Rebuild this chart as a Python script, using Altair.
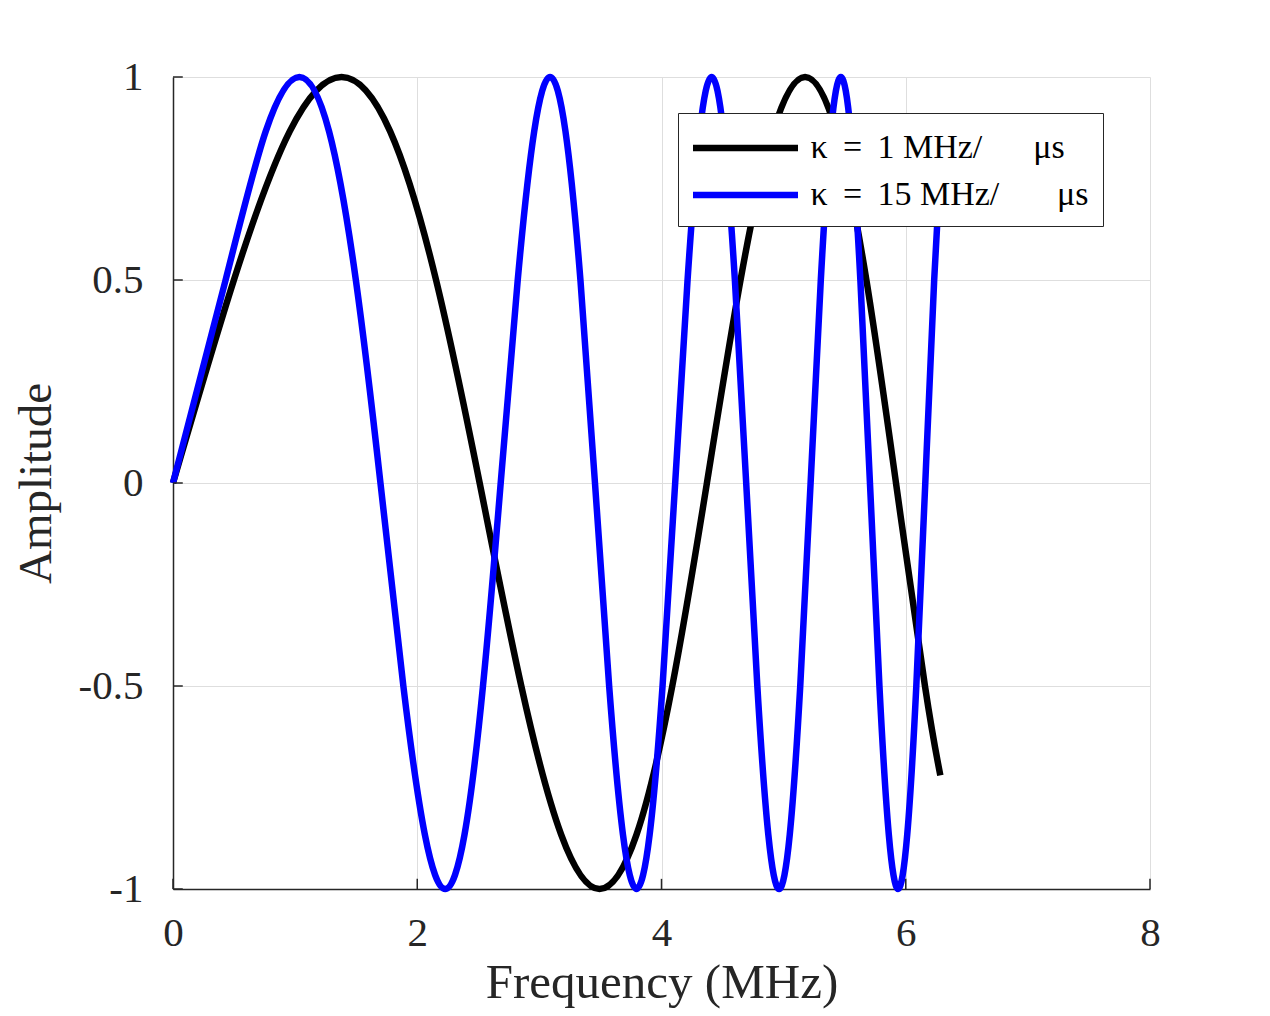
import altair as alt
import pandas as pd

# ---- data ----
black_x = [0, 0.4987, 0.9558, 1.3803, 1.7782, 2.1540, 2.5111, 2.8519, 3.1785, 3.4926,
           3.7955, 4.0883, 4.3719, 4.6472, 4.9149, 5.1755, 5.4296, 5.6777, 5.9201,
           6.1573, 6.2832]
black_y = [0, 0.5, 0.866, 1, 0.866, 0.5, 0, -0.5, -0.866, -1,
           -0.866, -0.5, 0, 0.5, 0.866, 1, 0.866, 0.5, 0,
           -0.5, -0.72]

blue_x = [0, 0.4308, 0.7591, 1.0351, 1.2779, 1.4972, 1.6987, 1.8862, 2.0623, 2.2287,
          2.3870, 2.5382, 2.6833, 2.8228, 2.9574, 3.0876, 3.2137, 3.3362, 3.4553, 3.5713,
          3.6844, 3.7949, 3.9029, 4.0086, 4.1120, 4.2134, 4.3129, 4.4106, 4.5065, 4.6008,
          4.6935, 4.7847, 4.8746, 4.9630, 5.0502, 5.1361, 5.2209, 5.3045, 5.3870, 5.4685,
          5.5489, 5.6284, 5.7069, 5.7845, 5.8613, 5.9372, 6.0122, 6.0865, 6.1600, 6.2328,
          6.2832]
blue_y = [0, 0.5, 0.866, 1, 0.866, 0.5, 0, -0.5, -0.866, -1,
          -0.866, -0.5, 0, 0.5, 0.866, 1, 0.866, 0.5, 0, -0.5,
          -0.866, -1, -0.866, -0.5, 0, 0.5, 0.866, 1, 0.866, 0.5,
          0, -0.5, -0.866, -1, -0.866, -0.5, 0, 0.5, 0.866, 1,
          0.866, 0.5, 0, -0.5, -0.866, -1, -0.866, -0.5, 0, 0.5,
          0.78]

series_labels = ["\u03ba \u2009= \u20091 MHz/\u2003\u2002\u03bcs",
                 "\u03ba \u2009= \u200915 MHz/\u2003\u2002\u2009\u03bcs"]
series_colors = ["#000000", "#0000ff"]

x_ticks = [0, 2, 4, 6, 8]
y_ticks = [-1, -0.5, 0, 0.5, 1]

FONT = "Liberation Serif"
TXT = "#262626"

black_df = pd.DataFrame({"x": black_x, "y": black_y, "series": series_labels[0]})
blue_df = pd.DataFrame({"x": blue_x, "y": blue_y, "series": series_labels[1]})
xt_df = pd.DataFrame({"x": x_ticks, "y": [-1] * len(x_ticks), "y2": [-0.975] * len(x_ticks)})
yt_df = pd.DataFrame({"y": y_ticks, "x": [0] * len(y_ticks), "x2": [0.08] * len(y_ticks)})

xscale = alt.Scale(domain=[0, 8], nice=False, zero=False)
yscale = alt.Scale(domain=[-1, 1], nice=False, zero=False)

label_expr = "datum.value < 0 ? '-' + format(-datum.value, '~g') : format(datum.value, '~g')"

x_axis = alt.Axis(values=x_ticks, title="Frequency (MHz)", grid=True, ticks=False,
                  labelPadding=24, titlePadding=5, labelExpr=label_expr,
                  labelFlush=False)
y_axis = alt.Axis(values=y_ticks, title="Amplitude", grid=True, ticks=False,
                  labelPadding=30, titlePadding=18, titleFontSize=47,
                  labelExpr=label_expr)

legend = alt.Legend(orient="none", legendX=505, legendY=36,
                    symbolType="M-3,0L3,0", symbolSize=1225, symbolStrokeWidth=6.5,
                    symbolOffset=32.5, labelOffset=44,
                    labelFont=FONT, labelFontSize=34, labelColor="black",
                    labelLimit=600, padding=14, rowPadding=9,
                    strokeColor="#262626", fillColor="white")

color = alt.Color("series:N", title=None,
                  scale=alt.Scale(domain=series_labels, range=series_colors),
                  legend=legend)

black_line = alt.Chart(black_df).mark_line(strokeWidth=6.5, interpolate="natural").encode(
    x=alt.X("x:Q", scale=xscale, axis=x_axis),
    y=alt.Y("y:Q", scale=yscale, axis=y_axis),
    color=color,
)
blue_line = alt.Chart(blue_df).mark_line(strokeWidth=6.5, interpolate="natural").encode(
    x=alt.X("x:Q", scale=xscale, axis=x_axis),
    y=alt.Y("y:Q", scale=yscale, axis=y_axis),
    color=color,
)
xticks = alt.Chart(xt_df).mark_rule(color=TXT, strokeWidth=1.5).encode(
    x=alt.X("x:Q", scale=xscale, axis=x_axis),
    y=alt.Y("y:Q", scale=yscale, axis=y_axis),
    y2="y2:Q",
)
yticks = alt.Chart(yt_df).mark_rule(color=TXT, strokeWidth=1.5).encode(
    x=alt.X("x:Q", scale=xscale, axis=x_axis),
    x2="x2:Q",
    y=alt.Y("y:Q", scale=yscale, axis=y_axis),
)

chart = alt.layer(black_line, blue_line, xticks, yticks).properties(
    width=977, height=812,
    autosize=alt.AutoSizeParams(type="none"),
    padding={"left": 165, "top": 69, "right": 100, "bottom": 121},
    background="white",
).configure_view(strokeWidth=0).configure_axis(
    labelFont=FONT, labelFontSize=41, labelColor=TXT,
    titleFont=FONT, titleFontSize=49, titleColor=TXT, titleFontWeight="normal",
    gridColor="#dedede", gridWidth=1,
    domainColor=TXT, domainWidth=1.5,
)

chart.save("out.html", embed_options={"renderer": "svg", "actions": False})
